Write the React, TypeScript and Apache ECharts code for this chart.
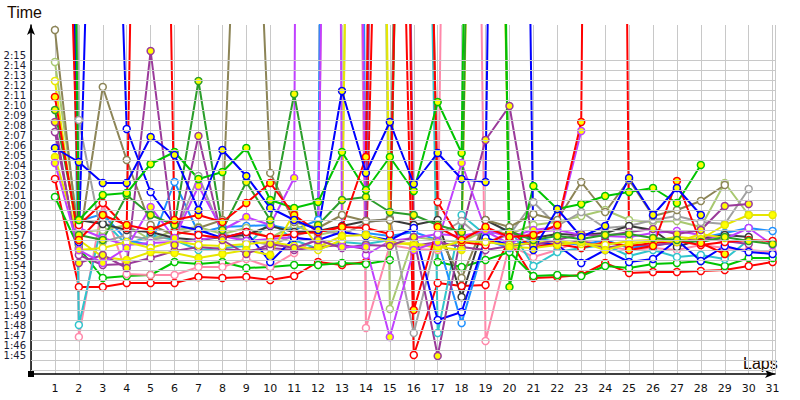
import React, { useEffect, useRef } from "react";
import * as echarts from "echarts";

const laps = [1, 2, 3, 4, 5, 6, 7, 8, 9, 10, 11, 12, 13, 14, 15, 16, 17, 18, 19, 20, 21, 22, 23, 24, 25, 26, 27, 28, 29, 30, 31];
const gridSeconds = [104, 105, 106, 107, 108, 109, 110, 111, 112, 113, 114, 115, 116, 117, 118, 119, 120, 121, 122, 123, 124, 125, 126, 127, 128, 129, 130, 131, 132, 133, 134, 135];

// lap times in seconds (values above ~138 are off the top of the chart)
const redLow = [123.1, 112.3, 112.3, 112.7, 112.7, 112.7, 113.3, 113.2, 113.3, 113.0, 113.4, 114.8, 114.5, 114.8, 210, 105.5, 112.7, 112.4, 112.5, 117.0, 113.2, 113.3, 113.5, 114.7, 113.7, 113.8, 113.8, 113.9, 114.0, 114.4, 114.8];
const redMid = [131.3, 117.0, 119.5, 118.5, 118.0, 119.0, 119.5, 118.8, 120.7, 122.7, 119.5, 117.8, 118.3, 125.3, 300, 110.0, 118.3, 117.0, 118.3, 117.3, 117.5, 118.5, 128.8, 400, 116.0, 116.4, 122.9, 116.7, 115.6, null, null];
const redPit = [200, 118.5, 120.7, 118.2, 260, 117.8, 117.5, 117.2, 117.8, 117.3, 117.6, 117.8, 118.3, 118.2, 117.6, 230, 120.8, 116.8, 116.5, 117.8, 116.3, 116.6, 116.2, 116.8, 116.4, 116.7, 116.9, 116.5, 116.8, 117.0, 116.9];
const greenLow = [121.3, 116.2, 113.2, 113.4, 113.5, 114.8, 114.6, 114.8, 114.2, 114.3, 114.5, 114.5, 114.7, 114.6, 115.0, 240, 114.8, 114.3, 115.0, 115.8, 113.4, 113.5, 113.4, 114.4, 114.2, 114.6, 114.7, 114.9, 114.4, 115.2, 115.2];
const greenTop = [300, 119.0, 121.5, 121.7, 124.6, 125.8, 123.1, 123.8, 126.2, 121.0, 120.2, 120.8, 125.8, 122.0, 125.3, 121.9, 130.8, 125.7, 300, 112.3, 122.4, 120.1, 120.6, 121.4, 121.8, 122.2, 120.7, 124.5, null, null, null];
const darkGreen = [130.0, 117.5, 117.0, 121.5, 119.5, 118.5, 132.9, 118.0, 122.8, 119.0, 131.6, 118.5, 121.0, 121.3, 119.8, 119.5, 118.5, 117.8, 250, 117.8, 117.0, 117.4, 117.1, 117.5, 117.6, 117.2, 117.0, 116.8, 117.3, 116.9, 116.6];
const blueTop = [126.2, 124.8, 122.7, 122.7, 127.3, 125.5, 120.0, 126.0, 123.4, 120.2, 119.0, 118.0, 131.9, 123.7, 128.8, 122.6, 125.7, 123.1, 122.8, 300, 116.0, 120.1, 117.3, 118.4, 123.2, 119.5, 122.2, 119.5, null, null, null];
const blueLow = [250, 116.8, 200, 128.1, 121.8, 118.5, 118.0, 117.2, 117.8, 114.8, 117.2, 117.0, 117.8, 117.4, 117.0, 118.2, 109.0, 109.8, 117.2, 116.5, 116.8, 116.5, 114.7, 116.0, 114.8, 115.1, 117.0, 114.9, 116.4, 115.8, 115.6];
const yellow = [125.3, 117.0, 115.3, 115.0, 115.8, 115.7, 115.2, 115.6, 116.0, 115.5, 119.7, 116.3, 117.4, 117.5, 116.8, 116.5, 116.3, 116.0, 250, 116.3, 116.2, 116.5, 116.8, 116.0, 116.6, 116.9, 117.3, 117.1, 118.5, 119.5, 119.5];
const yellowPale = [132.9, 116.0, 116.2, 116.8, 116.2, 116.9, 116.5, 116.4, 116.6, 116.8, 116.4, 116.0, 117.0, 300, 116.6, 116.7, 116.2, 116.9, 116.8, 116.5, 116.7, 116.9, 116.6, 116.5, 116.9, 117.0, 116.8, 117.6, 117.2, null, null];
const violet = [124.7, 116.0, 114.7, 116.2, 120.3, 117.2, 122.4, 118.0, 119.3, 118.5, 123.2, 600, 116.3, 116.3, 107.3, 116.0, 116.8, 124.7, 118.0, 117.3, 118.0, 118.3, 127.9, null, null, null, null, null, null, null, null];
const violetLate = [300, 118.2, 117.2, 116.5, 116.7, 116.8, 117.0, 117.4, 116.9, 117.1, 117.3, 116.8, 300, 115.5, 116.9, 117.2, 117.6, 117.4, 117.9, 116.6, 117.8, 118.0, 117.5, 117.4, 117.3, 117.7, 117.9, 117.5, 117.1, 118.2, 116.5];
const purple = [128.8, 114.7, 115.5, 114.2, 135.9, 116.5, 127.4, 117.0, 115.6, 116.6, 116.2, 117.0, 116.2, 116.5, 116.4, 117.3, 105.4, 117.8, 127.0, 130.4, 116.5, 117.0, 117.6, 117.4, 117.8, 118.1, 117.6, 118.0, 120.4, 120.6, null];
const purpleB = [127.8, 115.5, 114.5, 114.6, 115.2, 115.9, 116.3, 116.1, 115.9, 116.2, 116.0, 116.3, 116.5, 116.1, 300, 116.4, 116.8, 116.3, 116.0, 116.4, 116.7, 116.5, 116.9, 116.2, 116.6, 116.4, 116.8, 117.2, 116.9, 116.6, null];
const olive = [138.0, 116.5, 132.3, 125.0, 118.5, 117.5, 118.2, 119.0, 180, 123.7, 118.8, 118.2, 119.5, 118.9, 119.0, 250, 117.5, 113.2, 119.0, 118.3, 119.6, 119.0, 122.8, 119.8, 123.0, 119.4, 120.0, 120.9, 122.5, null, null];
const gray = [300, 129.0, 116.8, 117.5, 117.0, 117.4, 123.4, 117.6, 117.0, 116.5, 117.4, 118.1, 117.5, 118.7, 119.2, 107.7, 117.5, 118.9, 116.8, 117.5, 120.8, 118.4, 119.8, 118.2, 118.4, 119.0, 119.4, 118.8, 118.6, 122.1, null];
const darkGray = [220, 119.0, 118.6, 118.0, 117.8, 117.2, 117.0, 117.3, 117.5, 118.4, 117.8, 117.9, 118.4, 118.9, 119.0, 118.5, 119.0, 111.3, 119.0, 117.8, 117.2, 117.6, 117.5, 117.7, 118.4, 118.0, 116.3, 117.1, 117.5, 117.3, null];
const dodger = [300, 118.9, 119.6, 117.0, 116.5, 122.8, 117.7, 118.3, 118.4, 118.5, 118.0, 119.0, 400, 117.7, 117.4, 117.8, 117.0, 108.7, 117.0, 116.2, 117.2, 116.8, 116.5, 117.0, 116.2, 116.5, 116.7, 117.2, 117.7, 118.2, 117.9];
const teal = [260, 108.5, 119.0, 116.5, 117.5, 117.0, 116.0, 116.2, 116.4, 118.8, 117.0, 116.1, 116.8, 116.6, 117.0, 250, 107.7, 119.5, 117.5, 118.2, 114.4, 115.8, 116.2, 116.5, 115.4, 116.0, 115.3, 115.5, 115.1, 117.0, null];
const pink = [300, 107.3, 120.7, 113.6, 113.5, 113.5, 114.3, 114.3, 115.1, 114.3, 115.7, 117.2, 300, 108.2, 116.5, 116.1, 116.0, 300, 106.9, 116.5, 115.3, 116.0, 117.0, 116.4, 116.0, 116.2, 116.0, 116.5, 116.2, 116.0, 115.8];
const yellowGreen = [134.8, 117.8, 118.0, 118.5, 117.0, 118.0, 118.3, 117.6, 118.2, 117.2, 118.5, 117.5, 118.0, 300, 110.1, 117.3, 117.0, 116.8, 118.0, 117.6, 118.5, 118.8, 119.4, 120.0, 119.0, 118.8, 118.9, 118.3, 122.7, 119.5, null];

const seriesDefs = [
  { name: "S1", color: "#ff0000", fill: "#ffffff", values: redLow },
  { name: "S2", color: "#00c400", fill: "#ffffff", values: greenLow },
  { name: "S3", color: "#ff88aa", fill: "#ffffff", values: pink },
  { name: "S4", color: "#30c4cc", fill: "#ffffff", values: teal },
  { name: "S5", color: "#1e90ff", fill: "#ffffff", values: dodger },
  { name: "S6", color: "#a8c870", fill: "#ffffff", values: yellowGreen },
  { name: "S7", color: "#a0a0a0", fill: "#ffffff", values: gray },
  { name: "S8", color: "#3a3a3a", fill: "#ffffff", values: darkGray },
  { name: "S9", color: "#8c8456", fill: "#ffffff", values: olive },
  { name: "S10", color: "#c040ff", fill: "#ffffff", values: violetLate },
  { name: "S11", color: "#9a3a9a", fill: "#ffffff", values: purpleB },
  { name: "S12", color: "#0000ff", fill: "#ffffff", values: blueLow },
  { name: "S13", color: "#ff0000", fill: "#ffffff", values: redPit },
  { name: "S14", color: "#e8e800", fill: "#ffffff", values: yellowPale },
  { name: "S15", color: "#e6e600", fill: "#ffff00", values: yellow },
  { name: "S16", color: "#9a3a9a", fill: "#ffff00", values: purple },
  { name: "S17", color: "#c040ff", fill: "#ffff00", values: violet },
  { name: "S18", color: "#2a9d2a", fill: "#ffff00", values: darkGreen },
  { name: "S19", color: "#00c400", fill: "#ffff00", values: greenTop },
  { name: "S20", color: "#ff0000", fill: "#ffff00", values: redMid },
  { name: "S21", color: "#0000ff", fill: "#ffff00", values: blueTop },
];

function fmt(v: number): string {
  const s = Math.round(v);
  const m = Math.floor(s / 60);
  const r = s % 60;
  return m + ":" + String(r).padStart(2, "0");
}

export default function App() {
  const ref = useRef<HTMLDivElement>(null);
  useEffect(() => {
    if (!ref.current) return;
    const chart = echarts.init(ref.current, null, { renderer: "svg" });
    const lineSeries = seriesDefs.map((d) => ({
      name: d.name,
      type: "line",
      data: d.values
        .map((v, i) => [laps[i], v])
        .filter((p) => p[1] !== null),
      symbol: "circle",
      symbolSize: 7,
      showSymbol: true,
      clip: true,
      lineStyle: { color: d.color, width: 2 },
      itemStyle: { color: d.fill, borderColor: d.color, borderWidth: 1.5 },
      z: 3,
    }));
    const gridSeries = {
      name: "grid",
      type: "line",
      data: [],
      silent: true,
      z: 1,
      markLine: {
        silent: true,
        symbol: ["none", "none"],
        label: { show: false },
        animation: false,
        lineStyle: { color: "#c8c8c8", width: 1, type: "solid" },
        emphasis: { disabled: true },
        data: gridSeconds.map((s) => ({ yAxis: s })),
      },
    };
    chart.setOption({
      animation: false,
      grid: { left: 31, right: 25, top: 25, bottom: 26 },
      xAxis: {
        type: "value",
        min: 0,
        max: 31.1,
        interval: 1,
        axisLine: {
          show: true,
          lineStyle: { color: "#000", width: 1.5 },
          symbol: ["none", "arrow"],
          symbolSize: [6, 10],
        },
        axisTick: { show: false },
        axisLabel: {
          margin: 9,
          fontSize: 11,
          fontFamily: "DejaVu Sans",
          color: "#111",
          formatter: (v: number) =>
            Math.abs(v - Math.round(v)) < 0.01 && v >= 1 && v <= 31 ? String(Math.round(v)) : "",
        },
        splitLine: { show: true, lineStyle: { color: "#c8c8c8", width: 1 } },
      },
      yAxis: {
        type: "value",
        min: 103.6,
        max: 138.5,
        interval: 0.2,
        axisLine: {
          show: true,
          lineStyle: { color: "#000", width: 1.5 },
          symbol: ["none", "arrow"],
          symbolSize: [6, 10],
        },
        axisTick: { show: false },
        axisLabel: {
          margin: 5,
          fontSize: 10,
          fontFamily: "DejaVu Sans",
          color: "#1a1a33",
          verticalAlign: "bottom",
          formatter: (v: number) =>
            Math.abs(v - Math.round(v)) < 0.01 && Math.round(v) >= 105 && Math.round(v) <= 135
              ? fmt(v)
              : "",
        },
        splitLine: { show: false },
      },
      graphic: [
        {
          type: "text",
          left: 7,
          top: 4,
          style: { text: "Time", fontSize: 16, fontFamily: "Liberation Sans", fill: "#1a0a00" },
        },
        {
          type: "text",
          left: 743,
          top: 355,
          style: { text: "Laps", fontSize: 16, fontFamily: "Liberation Sans", fill: "#1a0a00" },
        },
        {
          type: "rect",
          left: 28,
          top: 371,
          shape: { width: 6, height: 6 },
          style: { fill: "#000" },
          z: 100,
        },
      ],
      series: [gridSeries, ...lineSeries],
    });
    return () => chart.dispose();
  }, []);
  return <div ref={ref} style={{ width: 800, height: 400, position: "absolute", left: 0, top: 0 }} />;
}
